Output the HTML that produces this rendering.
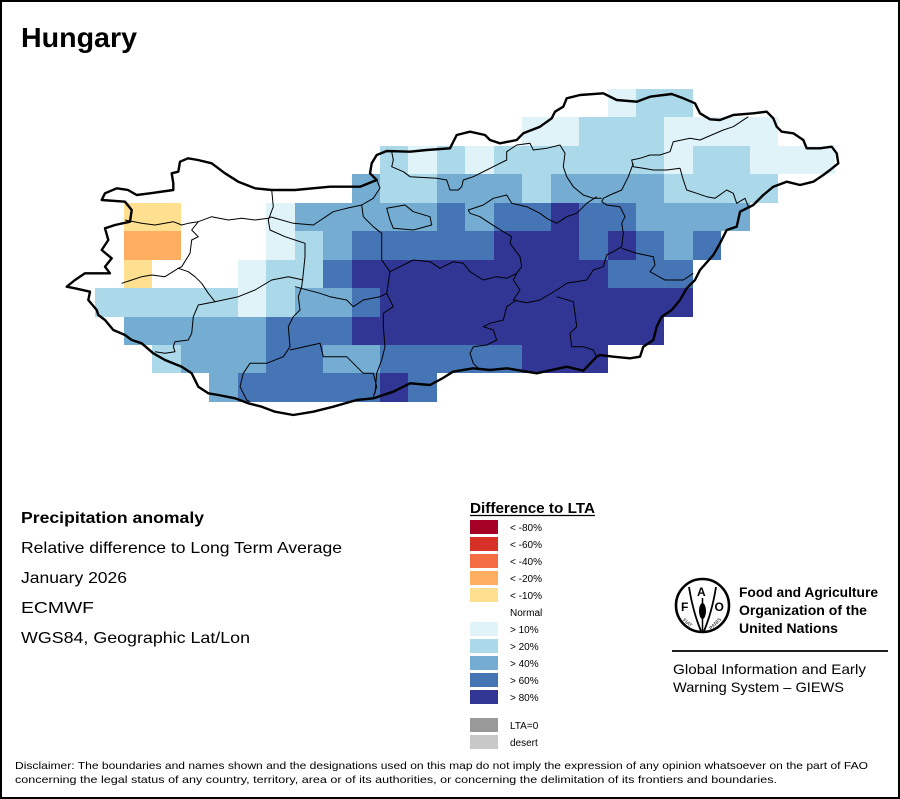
<!DOCTYPE html>
<html>
<head>
<meta charset="utf-8">
<style>
html,body{margin:0;padding:0;background:#fff;}
svg{display:block;}
text{font-family:"Liberation Sans",Arial,sans-serif;fill:#000;}
</style>
</head>
<body>
<svg width="900" height="799" viewBox="0 0 900 799" xmlns="http://www.w3.org/2000/svg">
<rect x="0" y="0" width="900" height="799" fill="#fff"/>

<!-- grid cells -->
<g shape-rendering="crispEdges">
<!-- row 0 -->
<rect x="608" y="89" width="28" height="28" fill="#E0F3F8"/>
<rect x="636" y="89" width="57" height="28" fill="#ABD9E9"/>
<!-- row 1 -->
<rect x="522" y="117" width="57" height="29" fill="#E0F3F8"/>
<rect x="579" y="117" width="85" height="29" fill="#ABD9E9"/>
<rect x="664" y="117" width="114" height="29" fill="#E0F3F8"/>
<!-- row 2 -->
<rect x="380" y="146" width="28" height="28" fill="#ABD9E9"/>
<rect x="408" y="146" width="29" height="28" fill="#E0F3F8"/>
<rect x="437" y="146" width="28" height="28" fill="#ABD9E9"/>
<rect x="465" y="146" width="29" height="28" fill="#E0F3F8"/>
<rect x="494" y="146" width="170" height="28" fill="#ABD9E9"/>
<rect x="664" y="146" width="29" height="28" fill="#E0F3F8"/>
<rect x="693" y="146" width="57" height="28" fill="#ABD9E9"/>
<rect x="750" y="146" width="85" height="28" fill="#E0F3F8"/>
<!-- row 3 -->
<rect x="352" y="174" width="28" height="29" fill="#74ADD1"/>
<rect x="380" y="174" width="57" height="29" fill="#ABD9E9"/>
<rect x="437" y="174" width="85" height="29" fill="#74ADD1"/>
<rect x="522" y="174" width="29" height="29" fill="#ABD9E9"/>
<rect x="551" y="174" width="113" height="29" fill="#74ADD1"/>
<rect x="664" y="174" width="114" height="29" fill="#ABD9E9"/>
<!-- row 4 -->
<rect x="124" y="203" width="57" height="28" fill="#FEE090"/>
<rect x="266" y="203" width="29" height="28" fill="#E0F3F8"/>
<rect x="295" y="203" width="142" height="28" fill="#74ADD1"/>
<rect x="437" y="203" width="28" height="28" fill="#4575B4"/>
<rect x="465" y="203" width="29" height="28" fill="#74ADD1"/>
<rect x="494" y="203" width="57" height="28" fill="#4575B4"/>
<rect x="551" y="203" width="28" height="28" fill="#313695"/>
<rect x="579" y="203" width="57" height="28" fill="#4575B4"/>
<rect x="636" y="203" width="114" height="28" fill="#74ADD1"/>
<!-- row 5 -->
<rect x="124" y="231" width="57" height="29" fill="#FDAE61"/>
<rect x="266" y="231" width="29" height="29" fill="#E0F3F8"/>
<rect x="295" y="231" width="28" height="29" fill="#ABD9E9"/>
<rect x="323" y="231" width="29" height="29" fill="#74ADD1"/>
<rect x="352" y="231" width="142" height="29" fill="#4575B4"/>
<rect x="494" y="231" width="85" height="29" fill="#313695"/>
<rect x="579" y="231" width="29" height="29" fill="#4575B4"/>
<rect x="608" y="231" width="28" height="29" fill="#313695"/>
<rect x="636" y="231" width="28" height="29" fill="#4575B4"/>
<rect x="664" y="231" width="29" height="29" fill="#74ADD1"/>
<rect x="693" y="231" width="28" height="29" fill="#4575B4"/>
<!-- row 6 -->
<rect x="124" y="260" width="28" height="28" fill="#FEE090"/>
<rect x="238" y="260" width="28" height="28" fill="#E0F3F8"/>
<rect x="266" y="260" width="57" height="28" fill="#ABD9E9"/>
<rect x="323" y="260" width="29" height="28" fill="#4575B4"/>
<rect x="352" y="260" width="256" height="28" fill="#313695"/>
<rect x="608" y="260" width="85" height="28" fill="#4575B4"/>
<!-- row 7 -->
<rect x="95" y="288" width="143" height="29" fill="#ABD9E9"/>
<rect x="238" y="288" width="28" height="29" fill="#E0F3F8"/>
<rect x="266" y="288" width="29" height="29" fill="#ABD9E9"/>
<rect x="295" y="288" width="57" height="29" fill="#74ADD1"/>
<rect x="352" y="288" width="28" height="29" fill="#4575B4"/>
<rect x="380" y="288" width="313" height="29" fill="#313695"/>
<!-- row 8 -->
<rect x="124" y="317" width="142" height="28" fill="#74ADD1"/>
<rect x="266" y="317" width="86" height="28" fill="#4575B4"/>
<rect x="352" y="317" width="312" height="28" fill="#313695"/>
<!-- row 9 -->
<rect x="152" y="345" width="29" height="28" fill="#ABD9E9"/>
<rect x="181" y="345" width="85" height="28" fill="#74ADD1"/>
<rect x="266" y="345" width="57" height="28" fill="#4575B4"/>
<rect x="323" y="345" width="57" height="28" fill="#74ADD1"/>
<rect x="380" y="345" width="142" height="28" fill="#4575B4"/>
<rect x="522" y="345" width="86" height="28" fill="#313695"/>
<!-- row 10 -->
<rect x="209" y="373" width="29" height="29" fill="#74ADD1"/>
<rect x="238" y="373" width="142" height="29" fill="#4575B4"/>
<rect x="380" y="373" width="28" height="29" fill="#313695"/>
<rect x="408" y="373" width="29" height="29" fill="#4575B4"/>
</g>

<!-- county boundaries -->
<g fill="none" stroke="#000" stroke-width="1" stroke-linejoin="round">
<polyline points="125,220 141.7,223.3 155,225 173.3,221.7 181.7,225 188.3,223.3 198.3,221.7 211.7,216.7 228.3,220 241.7,218.3 255,220 268.3,218.3 271,217 293.3,223.3 313.3,225 333.3,211.7 346.7,208.3 361.7,205"/>
<polyline points="271.7,190 273.3,206.7 268.3,220 270,230 285,236.7 295,240 305,243.3 305,256.7 303.3,273.3 301.7,286.7 298.3,296.7 300,310 293.3,316.7 288.3,326.7 290,346.7 283.3,356.7 266.7,363.3 250,363.3 243.3,373.3 240,386.7 246.7,400 250,401.7"/>
<polyline points="198.3,221.7 191.7,230 198.3,236.7 191.7,240 190,253.3 181.7,266.7 178.3,268.3"/>
<polyline points="121.7,283.3 141.7,276.7 151.7,275 165,276.7 178.3,268.3 188.3,271.7 195,276.7 201.7,283.3 208.3,293.3 215,301.7 238.3,296.7 255,290 271.7,280 288.3,276.7 303.3,280"/>
<polyline points="215,301.7 198.3,305 193.3,316.7 191.7,333.3 188.3,340 175,341.7 173.3,346.7 175,351.7 165,353.3 155,351.7"/>
<path d="M386.7,208.3 L405,205 L413.3,211.7 L430,216.7 L431.7,225 L413.3,230 L393.3,228.3 L390,220 Z"/>
<polyline points="361.7,205 363.3,216.7 373.3,226.7 381.7,233.3 381.7,260 390,271.7 386.7,293.3 393.3,306.7 383.3,313.3 383.3,326.7 385,346.7 381.7,360 376.7,373.3 375,393.3"/>
<polyline points="295,286.7 320,293.3 330,296.7 346.7,300 353.3,306.7 363.3,300 380,296.7 386.7,293.3"/>
<polyline points="290,350 320,343.3 323.3,356.7 346.7,356.7 363.3,373.3 373.3,373.3 376.7,386.7 373.3,396.7"/>
<polyline points="376.7,180 380,188 373.3,198.3 361.7,205"/>
<polyline points="391.7,151.7 393.3,160 391.7,166.7 403.3,171.7 410,176.7 436.7,178.3 446.7,180 450,190 458.3,190 461.7,186.7 463.3,180 473.3,176.7 486.7,170 493.3,166.7 506.7,160 506.7,151.7 516.7,145 530,143.3 533.3,150 546.7,148.3 560,145 565,153.3 563.3,166.7 566.7,176.7 573.3,186.7 583.3,195 593.3,198.3 601.7,198.3"/>
<polyline points="596.7,196.7 586.7,203.3 576.7,213.3 566.7,216.7 556.7,223.3 546.7,218.3 540,213.3 526.7,206.7 511.7,203.3 506.7,195 493.3,198.3 483.3,205 468.3,210 470,213.3 480,216.7 490,223.3 503.3,231.7 511.7,236.7 510,243.3 520,256.7 521.7,266.7 516.7,273.3 506.7,278.3 496.7,276.7 483.3,280 470,271.7 463.3,263.3 453.3,261.7 440,268.3 430,261.7 413.3,260 390,271.7"/>
<polyline points="633.3,163.3 628.3,176.7 625,183.3 621.7,190 610,195 603.3,198.3 601.7,201.7 606.7,205 620,206.7 625,216.7 621.7,223.3 623.3,233.3 621.7,246.7 613.3,251.7 606.7,255 603.3,266.7 593.3,270 586.7,280 566.7,283.3 556.7,290 540,300 526.7,302.7 513.3,300 520,290 513.3,280 516.7,273.3"/>
<polyline points="621.7,248.3 636.7,253.3 653.3,256.7 655,265 650,271.7 665,280 683.3,280 693.3,273.3"/>
<polyline points="748.3,116.7 733.3,126.7 723.3,130 700,140 690,138.3 673.3,141.7 670,151.7 660,155 650,155 640,158.3 631.7,160 633.3,166.7 643.3,168.3 653.3,170 666.7,170 680,168.3 683.3,180 686.7,190 696.7,193.3 706.7,196.7 715,198.3 726.7,190 733.3,193.3 736.7,203.3 745,198.3 748.3,206.7"/>
<polyline points="556.7,296.7 573.3,301.7 575,313.3 576.7,326.7 570,333.3 571.7,346.7 583.3,346.7 593.3,350 596.7,356.7"/>
<polyline points="516.7,300 506.7,306.7 503.3,320 490,323.3 483.3,326.7 493.3,330 496.7,340 486.7,345 473.3,346.7 470,353.3 473.3,363.3 480,370"/>
</g>

<!-- country outline -->
<path fill="none" stroke="#000" stroke-width="2.4" stroke-linejoin="round" d="M66.7,286.7 L75,280 L85,273.3 L110,273.3 L105,266.7 L111.7,258.3 L101.7,250 L108.3,240 L105,228.3 L115,225 L130,221.7 L131.7,210 L125,201.7 L101.7,200 L103.3,196.7 L105,193.3 L116.7,188.3 L128,190 L136.7,195 L150,193.3 L173.3,190 L173.3,183.3 L171.7,173.3 L178.3,171.7 L180,161.7 L188,158.3 L198,160 L211.7,163.3 L225,173.3 L238.3,181.7 L255,188.3 L271.7,190 L295,190 L330,186.7 L360,186.7 L376.7,180 L370,173.3 L371.7,163.3 L376.7,155 L386.7,151 L410,151.7 L426.7,150 L450,148.3 L456.7,135 L470,131.7 L485,135 L490,140 L500,143.3 L516.7,140 L523.3,133.3 L540,126.7 L551.7,118.3 L555,111.7 L563.3,106.7 L566.7,98.3 L580,95 L603.3,93.3 L616.7,100 L636.7,101.7 L650,96.7 L671.7,94 L683.3,98.3 L695,103.3 L700,113.3 L710,119.3 L720,120 L733.3,115 L753.3,113.3 L766.7,111.7 L773.3,118.3 L776.7,126.7 L781.7,131.7 L793.3,133.3 L803.3,140 L806.7,148.3 L820,148.3 L831.7,146.7 L836.7,153.3 L838.3,163.3 L830,170 L823.3,175 L813.3,181.7 L800,185 L786.7,181.7 L773.3,186.7 L763.3,195 L753.3,205 L740,211.7 L736.7,226.7 L726.7,230 L720,243.3 L713.3,255 L700,270 L695,280 L686.7,288.3 L680,300 L671.7,310 L661.7,316.7 L656.7,326.7 L653.3,340 L643.3,346.7 L640,356.7 L630,358.3 L613.3,356.7 L600,355 L596.7,356.7 L583.3,370.7 L566.7,366.7 L536.7,373.3 L506.7,368.3 L490,370 L473,368.3 L453,371.7 L443,378 L430,385 L410,383.3 L393.3,391.7 L373.3,398.3 L356.7,400 L333.3,406.7 L313.3,411.7 L293.3,415 L275,411.7 L261.7,406.7 L248.3,403.3 L235,398.3 L218.3,395 L208.3,393.3 L198.3,386.7 L191.7,373.3 L181.7,366.7 L165,360 L153.3,353.3 L141.7,343.3 L131.7,340 L125,335 L113.3,330 L105,320 L98.3,315 L96.7,310 L88.3,300 L90,291.7 L75,288.3 Z"/>

<!-- title -->
<text x="21" y="47" font-size="28" font-weight="bold" textLength="116" lengthAdjust="spacingAndGlyphs">Hungary</text>

<!-- left text block -->
<text x="21" y="523" font-size="16" font-weight="bold" textLength="183" lengthAdjust="spacingAndGlyphs">Precipitation anomaly</text>
<text x="21" y="553" font-size="16" textLength="321" lengthAdjust="spacingAndGlyphs">Relative difference to Long Term Average</text>
<text x="21" y="583" font-size="16" textLength="106" lengthAdjust="spacingAndGlyphs">January 2026</text>
<text x="21" y="613" font-size="16" textLength="73" lengthAdjust="spacingAndGlyphs">ECMWF</text>
<text x="21" y="643" font-size="16" textLength="229" lengthAdjust="spacingAndGlyphs">WGS84, Geographic Lat/Lon</text>

<!-- legend -->
<text x="470" y="513" font-size="15" font-weight="bold" textLength="125" lengthAdjust="spacingAndGlyphs">Difference to LTA</text>
<line x1="470" y1="515.5" x2="595" y2="515.5" stroke="#000" stroke-width="1.3"/>
<g shape-rendering="crispEdges">
<rect x="470" y="520" width="28" height="14" fill="#A50026"/>
<rect x="470" y="537" width="28" height="14" fill="#D73027"/>
<rect x="470" y="554" width="28" height="14" fill="#F46D43"/>
<rect x="470" y="571" width="28" height="14" fill="#FDAE61"/>
<rect x="470" y="588" width="28" height="14" fill="#FEE090"/>
<rect x="470" y="622" width="28" height="14" fill="#E0F3F8"/>
<rect x="470" y="639" width="28" height="14" fill="#ABD9E9"/>
<rect x="470" y="656" width="28" height="14" fill="#74ADD1"/>
<rect x="470" y="673" width="28" height="14" fill="#4575B4"/>
<rect x="470" y="690" width="28" height="14" fill="#313695"/>
<rect x="470" y="718" width="28" height="14" fill="#999999"/>
<rect x="470" y="735" width="28" height="14" fill="#C8C8C8"/>
</g>
<g font-size="10">
<text x="510" y="531">&lt; -80%</text>
<text x="510" y="548">&lt; -60%</text>
<text x="510" y="565">&lt; -40%</text>
<text x="510" y="582">&lt; -20%</text>
<text x="510" y="599">&lt; -10%</text>
<text x="510" y="616">Normal</text>
<text x="510" y="633">&gt; 10%</text>
<text x="510" y="650">&gt; 20%</text>
<text x="510" y="667">&gt; 40%</text>
<text x="510" y="684">&gt; 60%</text>
<text x="510" y="701">&gt; 80%</text>
<text x="510" y="729">LTA=0</text>
<text x="510" y="746">desert</text>
</g>

<!-- FAO logo -->
<circle cx="702.5" cy="605.5" r="26.5" fill="none" stroke="#000" stroke-width="2.6"/>
<text x="681" y="611" font-size="12" font-weight="bold">F</text>
<text x="697" y="596" font-size="12" font-weight="bold">A</text>
<text x="714.5" y="611" font-size="12" font-weight="bold">O</text>
<path d="M689,587 Q693,612 701,631" fill="none" stroke="#000" stroke-width="1.8"/>
<path d="M716,587 Q712,612 704,631" fill="none" stroke="#000" stroke-width="1.8"/>
<ellipse cx="702.5" cy="611" rx="3.5" ry="8" fill="#000"/>
<line x1="702.5" y1="598" x2="702.5" y2="632" stroke="#000" stroke-width="1.5"/>
<text x="683" y="623" font-size="5" transform="rotate(40 686 621)">FIAT</text>
<text x="708" y="628" font-size="5" transform="rotate(-45 712 625)">PANIS</text>

<text x="739" y="597" font-size="13.5" font-weight="bold" textLength="139" lengthAdjust="spacingAndGlyphs">Food and Agriculture</text>
<text x="739" y="615" font-size="13.5" font-weight="bold" textLength="128" lengthAdjust="spacingAndGlyphs">Organization of the</text>
<text x="739" y="633" font-size="13.5" font-weight="bold" textLength="99" lengthAdjust="spacingAndGlyphs">United Nations</text>
<line x1="672" y1="651" x2="888" y2="651" stroke="#000" stroke-width="1.8"/>
<text x="673" y="674" font-size="14" textLength="193" lengthAdjust="spacingAndGlyphs">Global Information and Early</text>
<text x="673" y="692" font-size="14" textLength="171" lengthAdjust="spacingAndGlyphs">Warning System – GIEWS</text>

<!-- disclaimer -->
<text x="15" y="769" font-size="10.5" textLength="853" lengthAdjust="spacingAndGlyphs">Disclaimer: The boundaries and names shown and the designations used on this map do not imply the expression of any opinion whatsoever on the part of FAO</text>
<text x="15" y="783" font-size="10.5" textLength="762" lengthAdjust="spacingAndGlyphs">concerning the legal status of any country, territory, area or of its authorities, or concerning the delimitation of its frontiers and boundaries.</text>

<!-- frame -->
<rect x="1" y="1" width="898" height="797" fill="none" stroke="#000" stroke-width="2"/>
</svg>
</body>
</html>
